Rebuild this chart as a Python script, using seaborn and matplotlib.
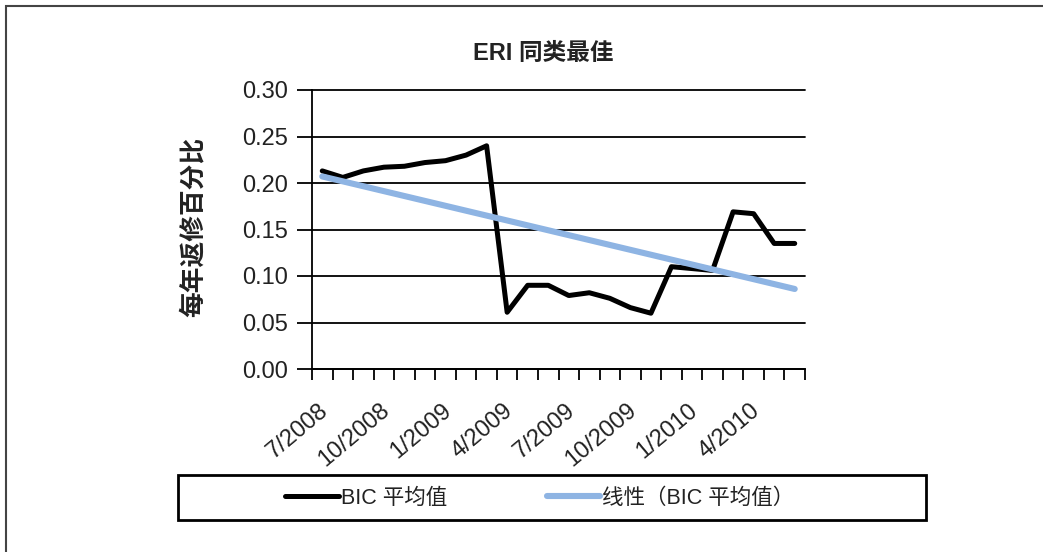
"""ERI best-in-class annual return rate, with linear trend."""
import matplotlib

matplotlib.use("Agg")
import matplotlib.pyplot as plt
import numpy as np
import seaborn as sns
from matplotlib.patches import Rectangle
from matplotlib.transforms import ScaledTranslation

months = [
    "7/2008", "8/2008", "9/2008", "10/2008", "11/2008", "12/2008",
    "1/2009", "2/2009", "3/2009", "4/2009", "5/2009", "6/2009",
    "7/2009", "8/2009", "9/2009", "10/2009", "11/2009", "12/2009",
    "1/2010", "2/2010", "3/2010", "4/2010", "5/2010", "6/2010",
]
bic_avg = [
    0.213, 0.206, 0.213, 0.217, 0.218, 0.222,
    0.224, 0.230, 0.240, 0.061, 0.090, 0.090,
    0.079, 0.082, 0.076, 0.066, 0.060, 0.110,
    0.108, 0.106, 0.169, 0.167, 0.135, 0.135,
]
tick_labels = months[::3]
y_ticks = [0.00, 0.05, 0.10, 0.15, 0.20, 0.25, 0.30]

series_name = "BIC 平均值"
trend_name = "线性（BIC 平均值）"
title = "ERI 同类最佳"
y_label = "每年返修百分比"

W, H = 1043, 552
TEXT = "#222222"
TREND_BLUE = "#8EB4E3"

sns.set_theme(style="white")
plt.rcParams["font.family"] = ["Liberation Sans", "Noto Sans CJK SC", "DejaVu Sans"]

fig = plt.figure(figsize=(W / 100, H / 100), dpi=100)
ax = fig.add_axes([312 / W, 1 - 369 / H, (805 - 312) / W, (369 - 90) / H])

x = np.arange(len(months))
sns.lineplot(x=x, y=bic_avg, color="black", lw=3.6, ax=ax, zorder=3,
             solid_joinstyle="round", solid_capstyle="round")
sns.regplot(x=x, y=bic_avg, scatter=False, ci=None, ax=ax,
            line_kws=dict(color=TREND_BLUE, lw=4.4, zorder=4, solid_capstyle="round"))

ax.set_xlim(-0.5, len(months) - 0.5)
ax.set_ylim(0, 0.30)
ax.set_yticks(y_ticks)
ax.set_yticklabels([f"{v:.2f}" for v in y_ticks])
ax.yaxis.grid(True, color="black", lw=1.3)
ax.xaxis.grid(False)
for gl in ax.get_ygridlines():
    gl.set_clip_on(False)

for side in ("top", "right"):
    ax.spines[side].set_visible(False)
for side in ("left", "bottom"):
    ax.spines[side].set_color("black")
    ax.spines[side].set_linewidth(1.3)

ax.tick_params(axis="y", left=True, length=11, width=1.3, color="black",
               pad=6, labelsize=17, labelcolor=TEXT)

# ticks between categories, labels every third month
ax.set_xticks(x[::3])
ax.set_xticks(np.arange(-0.5, len(months), 1), minor=True)
ax.set_xticklabels(tick_labels, rotation=40, ha="right", va="top",
                   rotation_mode="anchor")
ax.tick_params(axis="x", which="major", bottom=True, length=0, pad=22,
               labelsize=17, labelcolor=TEXT)
ax.tick_params(axis="x", which="minor", bottom=True, length=8, width=1.3,
               color="black")
shift = ScaledTranslation(-4 / 100, 0, fig.dpi_scale_trans)
for lab in ax.get_xticklabels():
    lab.set_transform(lab.get_transform() + shift)

ax.set_xlabel("")
ax.set_ylabel("")

fig.text(543 / W, 1 - 53 / H, title, ha="center", va="center",
         fontsize=17, fontweight="bold", color=TEXT)
fig.text(193 / W, 1 - 227 / H, y_label, ha="center", va="center",
         rotation=90, fontsize=18.5, fontweight="bold", color=TEXT)

# legend box below the plot
fig.add_artist(Rectangle((178 / W, 1 - 520 / H), (926 - 178) / W, 45 / H,
                         transform=fig.transFigure, fill=False,
                         ec="black", lw=2))
fig.legend(ax.lines[:2], [series_name, trend_name], loc="center",
           bbox_to_anchor=(540 / W, 1 - 498 / H), ncol=2, frameon=False,
           handlelength=2.5, handletextpad=0.1, columnspacing=4.6,
           fontsize=15.5, labelcolor=TEXT)

# outer frame (only left and top edges fall inside the picture)
fig.add_artist(Rectangle((6 / W, -0.1), 1.2, 1 - 6 / H + 0.1,
                         transform=fig.transFigure, fill=False,
                         ec="#444444", lw=1.5))

fig.savefig("out.png", dpi=100)
plt.close(fig)
